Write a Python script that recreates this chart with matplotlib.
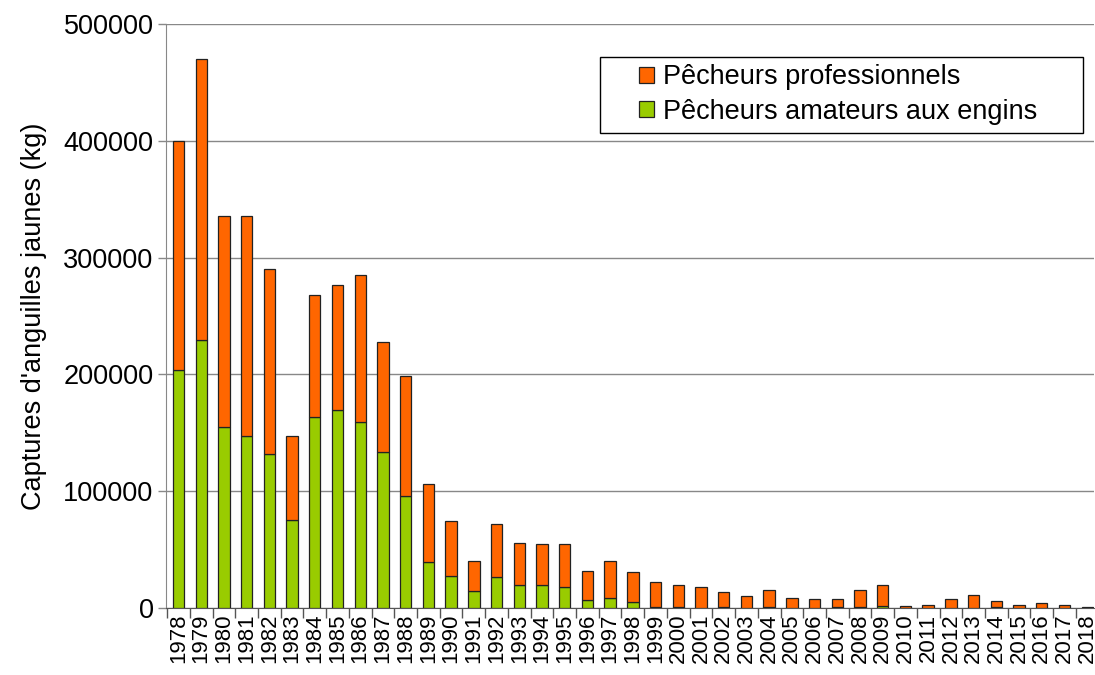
import matplotlib
matplotlib.use("Agg")
import matplotlib.pyplot as plt
from matplotlib.patches import Rectangle
from matplotlib.ticker import FixedLocator, NullFormatter
import numpy as np

plt.rcParams['font.family'] = ['Liberation Sans', 'DejaVu Sans']

years = list(range(1978, 2019))
# captures totales et part des amateurs (kg)
totals = [400000, 470000, 336000, 336000, 290500, 147500, 267700, 276300, 285100, 228000,
          198400, 105900, 74500, 40500, 72200, 55600, 54500, 54500, 31700, 40500,
          30600, 22000, 19700, 17700, 13400, 10000, 15400, 8800, 7700, 7700,
          15400, 19700, 1500, 2700, 7700, 11100, 5700, 2700, 4500, 2700, 500]
amateurs = [204000, 229500, 155200, 147500, 132100, 75300, 163800, 169500, 159500, 133300,
            96200, 39400, 27400, 14300, 26500, 20000, 19700, 17700, 6600, 8800,
            5400, 500, 1000, 0, 1000, 0, 1000, 0, 0, 1000,
            1000, 2000, 0, 0, 0, 0, 800, 0, 0, 0, 0]
professionnels = [t - a for t, a in zip(totals, amateurs)]

fig = plt.figure(figsize=(10.95, 6.75), dpi=100)
ax = fig.add_axes([0.1516, 0.0993, 0.8475, 0.8651])

x = np.arange(len(years))
w = 0.5
ax.bar(x, amateurs, w, color='#99CC00', edgecolor='#222222', linewidth=0.9,
       label='Pêcheurs amateurs aux engins', zorder=3)
ax.bar(x, professionnels, w, bottom=amateurs, color='#FF6600', edgecolor='#222222',
       linewidth=0.9, label='Pêcheurs professionnels', zorder=3)

ax.set_xlim(-0.55, 40.3)
ax.set_ylim(0, 500000)
ax.set_yticks(np.arange(0, 500001, 100000))
ax.set_yticklabels([str(v) for v in range(0, 500001, 100000)], fontsize=19.5)
ax.yaxis.grid(True, color='#888888', linewidth=1.0, zorder=0)
ax.tick_params(axis='y', length=6, color='#888888', width=1, pad=3)

ax.set_xticks(x)
ax.set_xticklabels([str(y) for y in years], rotation=90, fontsize=16)
ax.tick_params(axis='x', which='major', length=0, pad=4)
ax.xaxis.set_minor_locator(FixedLocator(np.arange(-0.5, 40.6, 1)))
ax.xaxis.set_minor_formatter(NullFormatter())
ax.tick_params(axis='x', which='minor', length=7, color='#555555', width=1)

for side in ('top', 'right'):
    ax.spines[side].set_visible(False)
ax.spines['left'].set_color('#888888')
ax.spines['bottom'].set_color('#555555')

ax.set_ylabel("Captures d'anguilles jaunes (kg)", fontsize=19.5, labelpad=12)

# légende sans cadre, cadre dessiné à part (marges larges à gauche et à droite)
handles, labels = ax.get_legend_handles_labels()
leg = fig.legend(handles[::-1], labels[::-1], loc='center left',
                 bbox_to_anchor=(0.584, 0.86), frameon=False,
                 fontsize=19.5, handlelength=0.55, handleheight=0.55,
                 handletextpad=0.3, borderpad=0, labelspacing=0.3, borderaxespad=0)
fig.patches.append(Rectangle((0.548, 0.803), 0.441, 0.1126, transform=fig.transFigure,
                             facecolor='white', edgecolor='#000000', linewidth=1.0,
                             zorder=4))
leg.set_zorder(5)

fig.savefig('out.png', dpi=100)
